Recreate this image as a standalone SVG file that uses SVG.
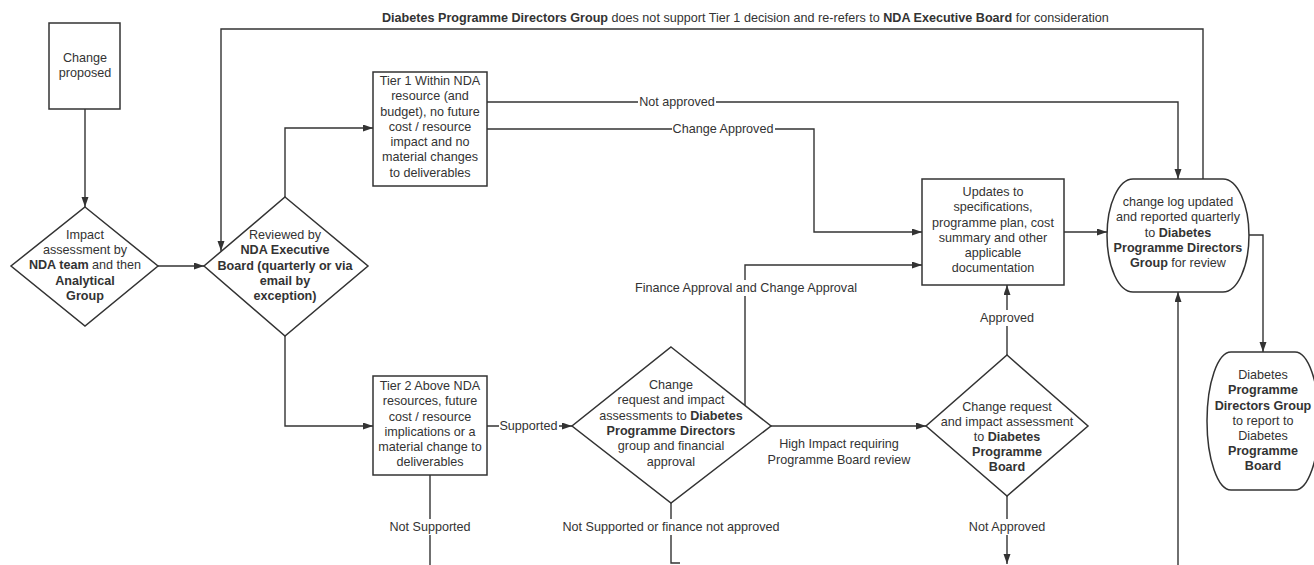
<svg xmlns="http://www.w3.org/2000/svg" width="1314" height="565" viewBox="0 0 1314 565">
<style>
  .shape { fill: #ffffff; stroke: #333333; stroke-width: 1.5; }
  .line { fill: none; stroke: #333333; stroke-width: 1.4; }
  .arrow { marker-end: url(#ah); }
  text { font-family: "Liberation Sans", Arial, sans-serif; font-size: 12.6px; fill: #333333; }
  .c { text-anchor: middle; }
  .b { font-weight: bold; }
  .bg { fill: #ffffff; stroke: none; }
</style>
<defs>
  <marker id="ah" markerUnits="userSpaceOnUse" markerWidth="10" markerHeight="8" refX="10" refY="3.5" orient="auto">
    <path d="M0,0 L10,3.5 L0,7 Z" fill="#333333"/>
  </marker>
</defs>
<rect width="1314" height="565" fill="#ffffff"/>

<g id="connectors">
  <path class="line arrow" d="M85,109 V207"/>
  <path class="line arrow" d="M158,266 H204"/>
  <path class="line arrow" d="M1203,179 V29 H221 V251"/>
  <path class="line arrow" d="M285,197 V128 H373"/>
  <path class="line arrow" d="M285,336 V426 H373"/>
  <path class="line arrow" d="M487,102 H1178 V179"/>
  <path class="line arrow" d="M487,129 H814 V232 H922"/>
  <path class="line arrow" d="M1064,232 H1107"/>
  <path class="line arrow" d="M487,426 H572"/>
  <path class="line arrow" d="M745,406 V265 H922"/>
  <path class="line arrow" d="M771,426 H926"/>
  <path class="line arrow" d="M1007,355 V285"/>
  <path class="line arrow" d="M1007,496 V564"/>
  <path class="line arrow" d="M1249,235 H1263 V352"/>
  <path class="line arrow" d="M1178,566 V292"/>
  <path class="line" d="M430,475 V566"/>
  <path class="line" d="M671,503 V563 H680"/>

  <g id="labels">
    <text x="382" y="22"><tspan class="b">Diabetes Programme Directors Group</tspan> does not support Tier 1 decision and re-refers to <tspan class="b">NDA Executive Board</tspan> for consideration</text>
    <rect class="bg" x="638" y="95" width="78" height="14"/>
    <text class="c" x="677" y="106">Not approved</text>
    <rect class="bg" x="672" y="122" width="103" height="14"/>
    <text class="c" x="723" y="133">Change Approved</text>
    <rect class="bg" x="499" y="419" width="60" height="14"/>
    <text class="c" x="528.5" y="430">Supported</text>
    <rect class="bg" x="634" y="280" width="224" height="16"/>
    <text class="c" x="746" y="292">Finance Approval and Change Approval</text>
    <rect class="bg" x="979" y="310" width="56" height="16"/>
    <text class="c" x="1007" y="322">Approved</text>
    <rect class="bg" x="968" y="519" width="78" height="16"/>
    <text class="c" x="1007" y="531">Not Approved</text>
    <rect class="bg" x="388" y="519" width="84" height="16"/>
    <text class="c" x="430" y="531">Not Supported</text>
    <rect class="bg" x="560" y="519" width="222" height="16"/>
    <text class="c" x="671" y="531">Not Supported or finance not approved</text>
    <text class="c" x="839" y="448">High Impact requiring</text>
    <text class="c" x="839" y="464">Programme Board review</text>
  </g>
</g>

<g id="change-proposed">
  <rect class="shape" x="49" y="23" width="71" height="86"/>
  <text class="c" x="85" y="62">Change</text>
  <text class="c" x="85" y="77">proposed</text>
</g>

<g id="impact-assessment">
  <polygon class="shape" points="85,207 158,266 85,326 11,266"/>
  <text class="c" x="85" y="239">Impact</text>
  <text class="c" x="85" y="254">assessment by</text>
  <text class="c" x="85" y="269"><tspan class="b">NDA team</tspan> and then</text>
  <text class="c b" x="85" y="285">Analytical</text>
  <text class="c b" x="85" y="300">Group</text>
</g>

<g id="reviewed">
  <polygon class="shape" points="285,197 368,266 285,336 204,266"/>
  <text class="c" x="285" y="239">Reviewed by</text>
  <text class="c b" x="285" y="254">NDA Executive</text>
  <text class="c b" x="285" y="270">Board (quarterly or via</text>
  <text class="c b" x="285" y="285">email by</text>
  <text class="c b" x="285" y="300">exception)</text>
</g>

<g id="tier1">
  <rect class="shape" x="373" y="72" width="114" height="114"/>
  <text class="c" x="430" y="85">Tier 1 Within NDA</text>
  <text class="c" x="430" y="100">resource (and</text>
  <text class="c" x="430" y="116">budget), no future</text>
  <text class="c" x="430" y="131">cost / resource</text>
  <text class="c" x="430" y="146">impact and no</text>
  <text class="c" x="430" y="161">material changes</text>
  <text class="c" x="430" y="177">to deliverables</text>
</g>

<g id="tier2">
  <rect class="shape" x="373" y="376" width="114" height="99"/>
  <text class="c" x="430" y="390">Tier 2 Above NDA</text>
  <text class="c" x="430" y="405">resources, future</text>
  <text class="c" x="430" y="421">cost / resource</text>
  <text class="c" x="430" y="436">implications or a</text>
  <text class="c" x="430" y="451">material change to</text>
  <text class="c" x="430" y="466">deliverables</text>
</g>

<g id="directors-review">
  <polygon class="shape" points="671,347 771,426 671,503 572,426"/>
  <text class="c" x="671" y="389">Change</text>
  <text class="c" x="671" y="404">request and impact</text>
  <text class="c" x="671" y="420">assessments to <tspan class="b">Diabetes</tspan></text>
  <text class="c b" x="671" y="435">Programme Directors</text>
  <text class="c" x="671" y="450">group and financial</text>
  <text class="c" x="671" y="466">approval</text>
</g>

<g id="updates">
  <rect class="shape" x="922" y="179" width="142" height="106"/>
  <text class="c" x="993" y="196">Updates to</text>
  <text class="c" x="993" y="211">specifications,</text>
  <text class="c" x="993" y="227">programme plan, cost</text>
  <text class="c" x="993" y="242">summary and other</text>
  <text class="c" x="993" y="257">applicable</text>
  <text class="c" x="993" y="272">documentation</text>
</g>

<g id="programme-board">
  <polygon class="shape" points="1007,355 1088,426 1007,496 926,426"/>
  <text class="c" x="1007" y="411">Change request</text>
  <text class="c" x="1007" y="426">and impact assessment</text>
  <text class="c" x="1007" y="441">to <tspan class="b">Diabetes</tspan></text>
  <text class="c b" x="1007" y="456">Programme</text>
  <text class="c b" x="1007" y="471">Board</text>
</g>

<g id="change-log">
  <path class="shape" d="M1133,179 H1223 A26,56.5 0 0 1 1223,292 H1133 A26,56.5 0 0 1 1133,179 Z"/>
  <text class="c" x="1178" y="206">change log updated</text>
  <text class="c" x="1178" y="221">and reported quarterly</text>
  <text class="c" x="1178" y="237">to <tspan class="b">Diabetes</tspan></text>
  <text class="c b" x="1178" y="252">Programme Directors</text>
  <text class="c" x="1178" y="267"><tspan class="b">Group</tspan> for review</text>
</g>

<g id="report-to-board">
  <path class="shape" d="M1231,352 H1295 A24,69 0 0 1 1295,490 H1231 A24,69 0 0 1 1231,352 Z"/>
  <text class="c" x="1263" y="379">Diabetes</text>
  <text class="c b" x="1263" y="394">Programme</text>
  <text class="c b" x="1263" y="410">Directors Group</text>
  <text class="c" x="1263" y="425">to report to</text>
  <text class="c" x="1263" y="440">Diabetes</text>
  <text class="c b" x="1263" y="455">Programme</text>
  <text class="c b" x="1263" y="470">Board</text>
</g>
</svg>
